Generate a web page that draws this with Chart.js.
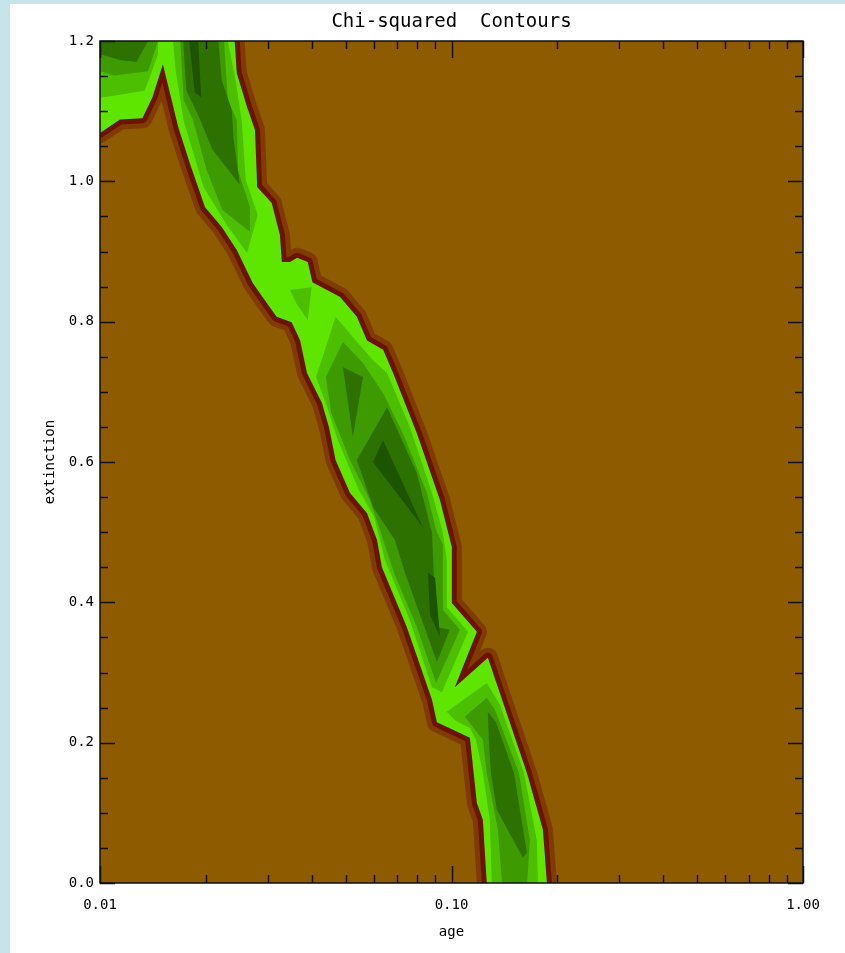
<!DOCTYPE html>
<html>
<head>
<meta charset="utf-8">
<script src="https://cdn.jsdelivr.net/npm/chart.js@4.4.1/dist/chart.umd.min.js"></script>
<style>
  html, body { margin: 0; padding: 0; background: #fff; }
  body { width: 845px; height: 953px; position: relative; overflow: hidden; }
  canvas { display: block; }
  .edge { position: absolute; left: 0; top: 0; background: #c6e5ea; }
</style>
</head>
<body>
<canvas id="contourChart" width="845" height="953"></canvas>
<div class="edge" style="width:10px;height:953px"></div>
<div class="edge" style="width:845px;height:4px"></div>
<script>
// axis ticks
const ageTicks = [0.01, 0.1, 1];
const ageLabels = ['0.01', '0.10', '1.00'];
const extTicks = [0, 0.2, 0.4, 0.6, 0.8, 1.0, 1.2];
const extLabels = ['0.0', '0.2', '0.4', '0.6', '0.8', '1.0', '1.2'];

// contour outlines, [age, extinction] pairs
// outer band (lowest chi-squared level that is drawn green)
const band = [
  [0.009, 1.25], [0.0238, 1.25], [0.0245, 1.154], [0.0262, 1.106], [0.0276, 1.073],
  [0.0280, 0.992], [0.0308, 0.969], [0.0325, 0.923], [0.0329, 0.885], [0.0347, 0.885],
  [0.0364, 0.891], [0.0390, 0.885], [0.0402, 0.856], [0.0482, 0.835], [0.0538, 0.807],
  [0.0575, 0.773], [0.0639, 0.760], [0.0682, 0.727], [0.0797, 0.641], [0.0927, 0.546],
  [0.1002, 0.479], [0.1002, 0.399], [0.1181, 0.358], [0.1022, 0.279], [0.1269, 0.321],
  [0.1638, 0.157], [0.1820, 0.076], [0.1868, 0.000], [0.1880, -0.05], [0.1260, -0.05],
  [0.1260, 0.000], [0.1228, 0.090], [0.1181, 0.114], [0.1128, 0.207], [0.0909, 0.229],
  [0.0880, 0.261], [0.0746, 0.365], [0.0634, 0.450], [0.0614, 0.489], [0.0575, 0.527],
  [0.0514, 0.556], [0.0468, 0.603], [0.0448, 0.650], [0.0428, 0.684], [0.0388, 0.727],
  [0.0371, 0.773], [0.0351, 0.799], [0.0318, 0.807], [0.0291, 0.834], [0.0272, 0.855],
  [0.0245, 0.902], [0.0222, 0.935], [0.0199, 0.963], [0.0180, 1.026], [0.0167, 1.077],
  [0.0151, 1.167], [0.0141, 1.120], [0.0132, 1.090], [0.0114, 1.088], [0.0100, 1.069],
  [0.009, 1.062]
];

// level 4
const lvl4a = [[0.009, 1.25], [0.0148, 1.25], [0.0146, 1.180], [0.0134, 1.129], [0.0113, 1.123], [0.0100, 1.119], [0.009, 1.118]];
const lvl4b = [
  [0.0158, 1.25], [0.0164, 1.159], [0.0173, 1.086], [0.0197, 0.992], [0.0228, 0.940],
  [0.0262, 0.898], [0.0281, 0.952], [0.0260, 1.002], [0.0253, 1.087], [0.0243, 1.144],
  [0.0231, 1.2], [0.0231, 1.25]
];
const lvl4c = [[0.0347, 0.845], [0.0400, 0.849], [0.0390, 0.802], [0.0362, 0.826]];
const lvl4d = [
  [0.0468, 0.807], [0.0524, 0.778], [0.0598, 0.745], [0.0656, 0.727], [0.0761, 0.650],
  [0.0880, 0.556], [0.0945, 0.499], [0.0970, 0.460], [0.0970, 0.393], [0.1114, 0.358],
  [0.0939, 0.272], [0.0880, 0.279], [0.0761, 0.375], [0.0647, 0.460], [0.0602, 0.522],
  [0.0545, 0.560], [0.0475, 0.631], [0.0443, 0.678], [0.0412, 0.721]
];
const lvl4e = [
  [0.0970, 0.244], [0.1128, 0.268], [0.1260, 0.285], [0.1373, 0.254], [0.1607, 0.157],
  [0.1749, 0.061], [0.1772, -0.05], [0.1311, -0.05], [0.1285, 0.090], [0.1228, 0.157],
  [0.1173, 0.204], [0.1128, 0.221], [0.1022, 0.232]
];

// level 5
const lvl5a = [[0.009, 1.25], [0.0146, 1.25], [0.0146, 1.2], [0.0144, 1.190], [0.0137, 1.157], [0.0110, 1.151], [0.0100, 1.157], [0.009, 1.157]];
const lvl5b = [
  [0.0167, 1.25], [0.0173, 1.116], [0.0184, 1.087], [0.0201, 1.016], [0.0223, 0.959],
  [0.0267, 0.928], [0.0267, 0.963], [0.0247, 1.016], [0.0245, 1.087], [0.0231, 1.116],
  [0.0222, 1.25]
];
const lvl5c = [
  [0.0491, 0.771], [0.0560, 0.741], [0.0639, 0.698], [0.0727, 0.641], [0.0851, 0.556],
  [0.0904, 0.503], [0.0945, 0.482], [0.0945, 0.389], [0.1057, 0.361], [0.0904, 0.285],
  [0.0797, 0.365], [0.0690, 0.439], [0.0586, 0.546], [0.0514, 0.603], [0.0455, 0.670],
  [0.0439, 0.721]
];
const lvl5d = [
  [0.1092, 0.237], [0.1260, 0.264], [0.1329, 0.247], [0.1555, 0.157], [0.1671, 0.061],
  [0.1617, -0.05], [0.1419, -0.05], [0.1355, 0.076], [0.1260, 0.157], [0.1228, 0.204]
];

// level 6
const lvl6a = [[0.009, 1.25], [0.0138, 1.25], [0.0137, 1.2], [0.0127, 1.170], [0.0114, 1.173], [0.0100, 1.181], [0.009, 1.181]];
const lvl6b = [
  [0.0170, 1.25], [0.0176, 1.130], [0.0193, 1.087], [0.0209, 1.045], [0.0250, 0.995],
  [0.0240, 1.059], [0.0237, 1.102], [0.0222, 1.144], [0.0213, 1.25]
];
const lvl6c = [[0.0491, 0.735], [0.0560, 0.721], [0.0524, 0.636]];
const lvl6d = [
  [0.0656, 0.678], [0.0797, 0.584], [0.0880, 0.499], [0.0904, 0.365], [0.0989, 0.361],
  [0.0909, 0.315], [0.0737, 0.442], [0.0690, 0.489], [0.0598, 0.536], [0.0538, 0.603]
];
const lvl6e = [
  [0.1269, 0.244], [0.1338, 0.229], [0.1505, 0.157], [0.1638, 0.043], [0.1596, 0.036],
  [0.1346, 0.104], [0.1294, 0.157], [0.1277, 0.204]
];

// level 7 (minimum)
const lvl7a = [[0.0175, 1.25], [0.0188, 1.25], [0.0194, 1.120], [0.0186, 1.127]];
const lvl7b = [[0.0639, 0.631], [0.0829, 0.507], [0.0598, 0.600]];
const lvl7c = [[0.0857, 0.442], [0.0898, 0.435], [0.0927, 0.351], [0.0869, 0.382]];

// colours
const bgBrown = '#8e5b00';
const rimOuter = '#803c00';
const rimInner = '#6e1200';
const green3 = '#5fe600';
const green4 = '#4cc000';
const green5 = '#3d9a00';
const green6 = '#2d7200';
const green7 = '#1c5400';

const layers = [
  [band, green3, true],
  [lvl4a, green4], [lvl4b, green4], [lvl4c, green4], [lvl4d, green4], [lvl4e, green4],
  [lvl5a, green5], [lvl5b, green5], [lvl5c, green5], [lvl5d, green5],
  [lvl6a, green6], [lvl6b, green6], [lvl6c, green6], [lvl6d, green6], [lvl6e, green6],
  [lvl7a, green7], [lvl7b, green7], [lvl7c, green7]
];

const monoFont = '"DejaVu Sans Mono", monospace';

// fills each outline (already placed by the scales) inside the plot area
const contourFill = {
  id: 'contourFill',
  beforeDatasetsDraw(chart) {
    const { ctx, chartArea: a } = chart;
    ctx.save();
    ctx.beginPath();
    ctx.rect(a.left, a.top, a.right - a.left, a.bottom - a.top);
    ctx.clip();
    ctx.fillStyle = bgBrown;
    ctx.fillRect(a.left, a.top, a.right - a.left, a.bottom - a.top);
    ctx.lineJoin = 'round';
    chart.data.datasets.forEach((ds, i) => {
      const pts = chart.getDatasetMeta(i).data;
      const path = new Path2D();
      pts.forEach((p, j) => j ? path.lineTo(p.x, p.y) : path.moveTo(p.x, p.y));
      path.closePath();
      if (ds.rims) {
        ds.rims.forEach(([c, w]) => {
          ctx.strokeStyle = c;
          ctx.lineWidth = w;
          ctx.stroke(path);
        });
      }
      ctx.fillStyle = ds.backgroundColor;
      ctx.fill(path);
    });
    ctx.restore();
  },
  afterDatasetsDraw(chart) {
    // frame and inward ticks on all four sides
    const { ctx, chartArea: a, scales: { x, y } } = chart;
    ctx.save();
    ctx.strokeStyle = '#111';
    ctx.lineWidth = 1.5;
    ctx.beginPath();
    for (let d = -2; d < 0; d++) {
      for (let k = 1; k <= 10; k++) {
        const px = Math.round(x.getPixelForValue(k * Math.pow(10, d))) + 0.5;
        const len = (k === 1 || k === 10) ? 17 : 8;
        ctx.moveTo(px, a.bottom); ctx.lineTo(px, a.bottom - len);
        ctx.moveTo(px, a.top); ctx.lineTo(px, a.top + len);
      }
    }
    for (let i = 0; i <= 24; i++) {
      const py = Math.round(y.getPixelForValue(i * 0.05)) + 0.5;
      const len = i % 4 === 0 ? 15 : 8;
      ctx.moveTo(a.left, py); ctx.lineTo(a.left + len, py);
      ctx.moveTo(a.right, py); ctx.lineTo(a.right - len, py);
    }
    ctx.stroke();
    ctx.strokeRect(a.left, a.top, a.right - a.left, a.bottom - a.top);
    ctx.restore();
  },
  afterDraw(chart) {
    const { ctx, chartArea: a } = chart;
    ctx.save();
    ctx.fillStyle = '#000';
    ctx.font = '19px ' + monoFont;
    ctx.textAlign = 'center';
    ctx.textBaseline = 'middle';
    ctx.fillText('Chi-squared  Contours', (a.left + a.right) / 2, 22);
    ctx.restore();
  }
};

new Chart(document.getElementById('contourChart'), {
  type: 'scatter',
  data: {
    datasets: layers.map(([pts, color, rims]) => ({
      data: pts.map(([age, ext]) => ({ x: age, y: ext })),
      backgroundColor: color,
      rims: rims ? [[rimOuter, 20], [rimInner, 10]] : null,
      pointRadius: 0,
      showLine: false
    }))
  },
  options: {
    responsive: false,
    animation: false,
    devicePixelRatio: 1,
    events: [],
    layout: { padding: { top: 41, right: 42, left: 0, bottom: 0 } },
    plugins: { legend: { display: false }, tooltip: { enabled: false } },
    scales: {
      x: {
        type: 'logarithmic',
        min: 0.01,
        max: 1,
        grid: { display: false, drawTicks: false },
        border: { display: false },
        afterBuildTicks: s => { s.ticks = ageTicks.map(v => ({ value: v })); },
        afterFit: s => { s.height = 70; },
        ticks: {
          color: '#000',
          font: { family: monoFont, size: 14 },
          padding: 14,
          maxRotation: 0,
          autoSkip: false,
          callback: (v) => ageLabels[ageTicks.indexOf(v)] ?? ''
        },
        title: { display: true, text: 'age', color: '#000', font: { family: monoFont, size: 14 }, padding: { top: 0, bottom: 12 } }
      },
      y: {
        type: 'linear',
        min: 0,
        max: 1.2,
        grid: { display: false, drawTicks: false },
        border: { display: false },
        afterBuildTicks: s => { s.ticks = extTicks.map(v => ({ value: v })); },
        afterFit: s => { s.width = 100; },
        ticks: {
          color: '#000',
          font: { family: monoFont, size: 14 },
          padding: 6,
          callback: (v) => extLabels[extTicks.findIndex(t => Math.abs(t - v) < 1e-9)] ?? ''
        },
        title: { display: true, text: 'extinction', color: '#000', font: { family: monoFont, size: 14 }, padding: { top: 42, bottom: 0 } }
      }
    }
  },
  plugins: [contourFill]
});
</script>
</body>
</html>
